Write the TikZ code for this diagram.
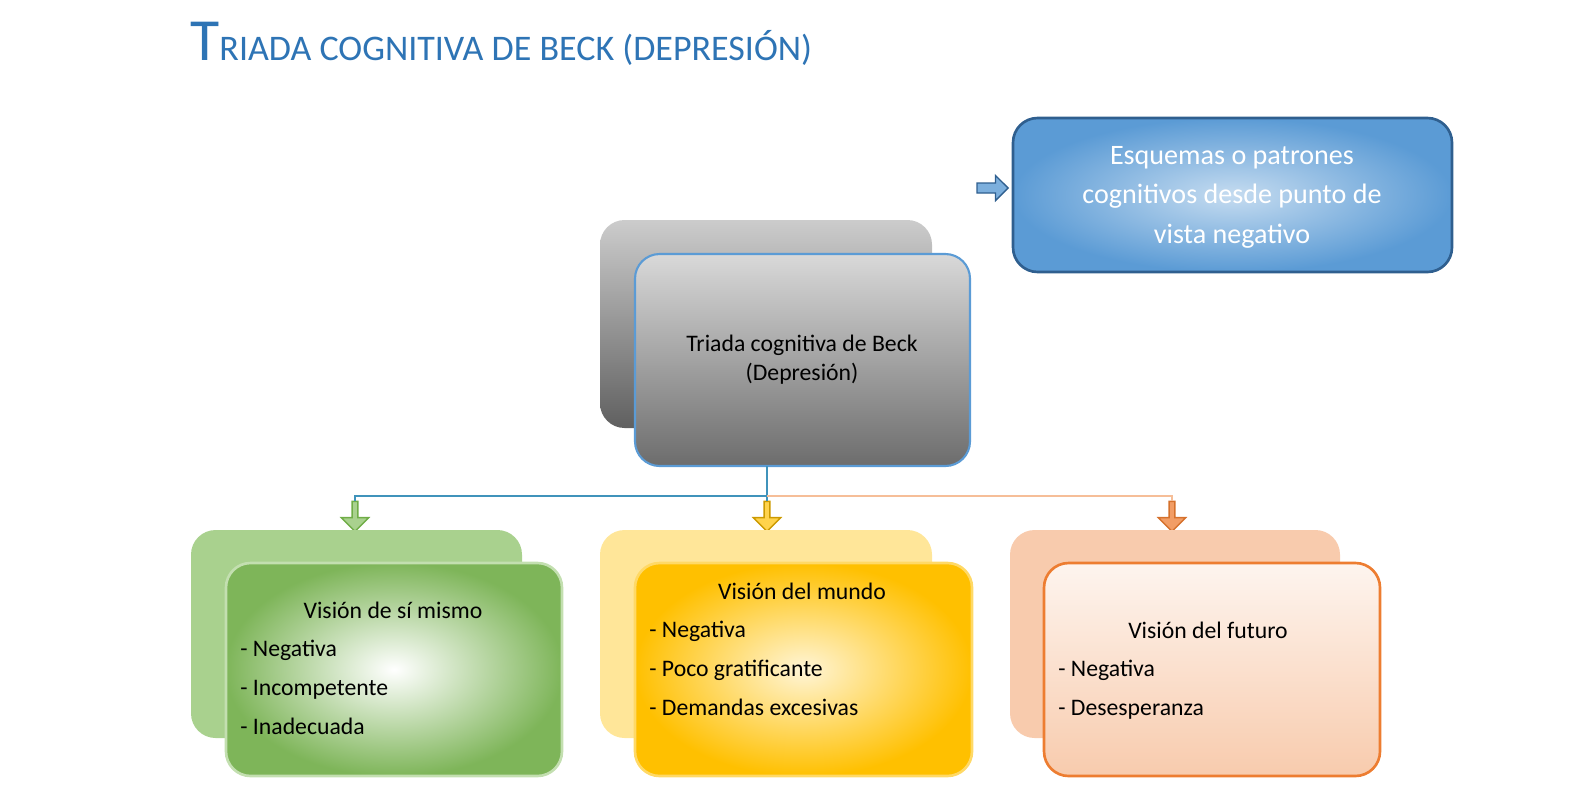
\documentclass[tikz,border=0pt]{standalone}
\usepackage{fontspec}
\setmainfont{Carlito}
\usetikzlibrary{shapes.arrows,positioning}
\definecolor{titleblue}{HTML}{2E74B5}
\definecolor{boxblue}{HTML}{5B9BD5}
\definecolor{darkblue}{HTML}{2F5F8F}
\definecolor{gback}{HTML}{A9D18E}
\definecolor{gdark}{HTML}{70AD47}
\definecolor{yback}{HTML}{FFE699}
\definecolor{ydark}{HTML}{FFC000}
\definecolor{oback}{HTML}{F8CBAD}
\definecolor{odark}{HTML}{ED7D31}
\tikzset{
  card/.style = {rounded corners=14pt},
  txt/.style = {font=\fontsize{13.5}{22}\selectfont, inner sep=0pt},
  dnarrow/.style = {single arrow, draw, shape border rotate=270, minimum height=0.6cm,
    minimum width=0.55cm, single arrow head extend=0.12cm, inner sep=0.5pt, line width=0.8pt}
}
\begin{document}
\begin{tikzpicture}[x=0.02cm,y=-0.02cm]
  \useasboundingbox (0,0) rectangle (1571,792);
  % title
  \node[anchor=base west, inner sep=0pt, text=titleblue] (title) at (190,60)
    {\fontsize{34}{34}\selectfont T\fontsize{20.5}{20.5}\selectfont RIADA COGNITIVA DE BECK (DEPRESIÓN)};
  % schema box
  \shade[card, inner color=boxblue!35, outer color=boxblue, draw=darkblue, line width=1.5pt]
    (1013,118) rectangle (1452,272);
  \node[txt, text=white, align=center, font=\fontsize{16}{22.5}\selectfont] (esq) at (1232,197)
    {Esquemas o patrones\\cognitivos desde punto de\\vista negativo};
  \node[single arrow, draw=darkblue, fill=boxblue!80, line width=0.8pt, minimum height=0.62cm,
    minimum width=0.5cm, single arrow head extend=0.1cm, inner sep=1.5pt] (inarrow) at (990,188) {};
  % central cards
  \shade[card, top color=gray!40, bottom color=gray!75!black] (600,220) rectangle (932,428);
  \shade[card, top color=gray!30, bottom color=gray!85!black, draw=boxblue, line width=1.2pt]
    (635,254) rectangle (970,466);
  \node[txt, align=center, font=\fontsize{13.5}{16.5}\selectfont] (triada) at (802,360)
    {Triada cognitiva de Beck\\(Depresión)};
  \coordinate (tbot) at (767,466);
  % arrows down
  \node[dnarrow, draw=gdark, fill=gback] (ag) at (355,515) {};
  \node[dnarrow, draw=ydark!80!black, fill=ydark!70] (ay) at (767,515) {};
  \node[dnarrow, draw=odark!90!black, fill=odark!75] (ao) at (1172,515) {};
  \coordinate (junc) at (767,496);
  \draw[boxblue!70!teal, line width=1pt] (tbot) -- (junc) -| (ag.north);
  \draw[boxblue!70!teal, line width=1pt] (junc) -- (ay.north);
  \draw[odark!50, line width=1pt] (junc) -| (ao.north);
  % green
  \fill[card, gback] (191,530) rectangle (522,738);
  \shade[card, inner color=white, outer color=gdark!90, draw=gback!70, line width=1.5pt]
    (226,563) rectangle (562,776);
  \node[txt] (gtitle) at (393,610) {Visión de sí mismo};
  \node[txt, anchor=base west] (g1) at (240,656) {- Negativa};
  \node[txt, anchor=base west] (g2) at (240,695) {- Incompetente};
  \node[txt, anchor=base west] (g3) at (240,734) {- Inadecuada};
  % yellow
  \fill[card, yback] (600,530) rectangle (932,738);
  \shade[card, inner color=yback!40, outer color=ydark, draw=ydark!60, line width=1.5pt]
    (635,563) rectangle (972,776);
  \node[txt] (ytitle) at (802,591) {Visión del mundo};
  \node[txt, anchor=base west] (y1) at (649,637) {- Negativa};
  \node[txt, anchor=base west] (y2) at (649,676) {- Poco gratificante};
  \node[txt, anchor=base west] (y3) at (649,715) {- Demandas excesivas};
  % orange
  \fill[card, oback] (1010,530) rectangle (1340,738);
  \shade[card, top color=oback!20, bottom color=oback, draw=odark, line width=1.5pt]
    (1044,563) rectangle (1380,776);
  \node[txt] (otitle) at (1208,630) {Visión del futuro};
  \node[txt, anchor=base west] (o1) at (1058,676) {- Negativa};
  \node[txt, anchor=base west] (o2) at (1058,715) {- Desesperanza};
\end{tikzpicture}
\end{document}
